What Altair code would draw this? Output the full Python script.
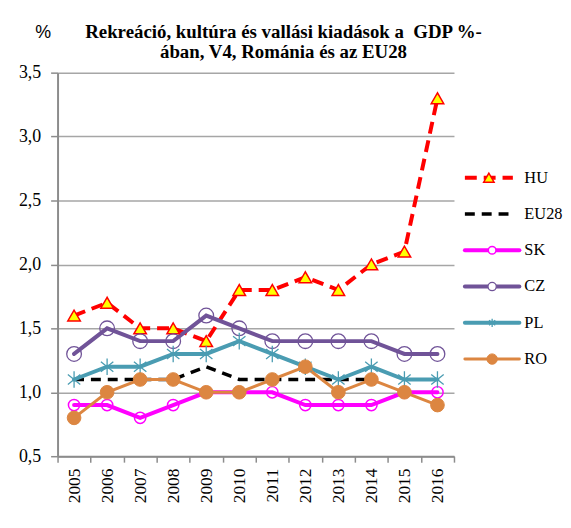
import altair as alt
import pandas as pd

years = ["2005", "2006", "2007", "2008", "2009", "2010", "2011", "2012", "2013", "2014", "2015", "2016"]
series_names = ["HU", "EU28", "SK", "CZ", "PL", "RO"]
hu = [1.6, 1.7, 1.5, 1.5, 1.4, 1.8, 1.8, 1.9, 1.8, 2.0, 2.1, 3.3]
eu28 = [1.1, 1.1, 1.1, 1.1, 1.2, 1.1, 1.1, 1.1, 1.1, 1.1, None, None]
sk = [0.9, 0.9, 0.8, 0.9, 1.0, 1.0, 1.0, 0.9, 0.9, 0.9, 1.0, 1.0]
cz = [1.3, 1.5, 1.4, 1.4, 1.6, 1.5, 1.4, 1.4, 1.4, 1.4, 1.3, 1.3]
pl = [1.1, 1.2, 1.2, 1.3, 1.3, 1.4, 1.3, 1.2, 1.1, 1.2, 1.1, 1.1]
ro = [0.8, 1.0, 1.1, 1.1, 1.0, 1.0, 1.1, 1.2, 1.0, 1.1, 1.0, 0.9]
y_ticks = [0.5, 1.0, 1.5, 2.0, 2.5, 3.0, 3.5]
title_lines = ["Rekreáció, kultúra és vallási kiadások a\u00a0 GDP %-", "ában, V4, Románia és az EU28"]

values = {"HU": hu, "EU28": eu28, "SK": sk, "CZ": cz, "PL": pl, "RO": ro}

STAR = "M0,-1L0,1M-0.75,-0.6L0.75,0.6M-0.75,0.6L0.75,-0.6"
styles = {
    "HU": dict(color="#FF0000", width=4, dash=[12, 7], shape="triangle-up", fill="#FFFF00", size=160, lsize=110, sw=1.5, seg=0.88),
    "EU28": dict(color="#000000", width=3.5, dash=[10, 7], shape=None, seg=0.88),
    "SK": dict(color="#FF00FF", width=4, dash=None, shape="circle", fill=None, size=130, lsize=60, sw=1.5, seg=1.0),
    "CZ": dict(color="#705398", width=4, dash=None, shape="circle", fill=None, size=220, lsize=70, sw=1.3, seg=1.0),
    "PL": dict(color="#4A9CB2", width=4, dash=None, shape=STAR, fill=None, size=280, lsize=70, sw=1.3, seg=1.0),
    "RO": dict(color="#DC8641", width=3, dash=None, shape="circle", fill="#DC8641", size=190, lsize=110, sw=1, seg=1.0),
}

rows = []
for s in series_names:
    for y, v in zip(years, values[s]):
        if v is not None:
            rows.append({"year": y, "series": s, "value": v})
df = pd.DataFrame(rows)

W, H = 400, 387
LW = 92
SEG = 55.0
SERIF = "Liberation Serif"

x_enc = alt.X(
    "year:N",
    sort=years,
    bandPosition=0.5,
    scale=alt.Scale(type="band", domain=years, paddingInner=0, paddingOuter=0),
    axis=alt.Axis(
        title=None, labelAngle=270, labelAlign="right", labelBaseline="middle",
        labelFont=SERIF, labelFontSize=17.5, labelColor="#000000", labelPadding=6,
        tickBand="extent", tickColor="#8C8C8C", tickSize=6, tickWidth=1.5,
        domainColor="#8C8C8C", domainWidth=2, grid=False,
    ),
)
y_enc = alt.Y(
    "value:Q",
    scale=alt.Scale(domain=[0.5, 3.5], nice=False, zero=False),
    axis=alt.Axis(
        values=y_ticks, labelExpr="replace(format(datum.value, '.1f'), '.', ',')",
        labelFont=SERIF, labelFontSize=18, labelColor="#000000", labelPadding=10,
        tickColor="#8C8C8C", tickSize=7, tickWidth=1.5,
        domainColor="#8C8C8C", domainWidth=2,
        grid=True, gridColor="#A6A6A6", gridWidth=1.5,
        title="%", titleAngle=0, titleFont="Liberation Sans", titleFontSize=18,
        titleFontWeight="normal", titleColor="#000000", titleX=-15, titleY=-31,
        titleAlign="center",
    ),
)

layers = []
for s in series_names:
    st = styles[s]
    d = df[df.series == s]
    base = alt.Chart(d)
    line_kw = dict(color=st["color"], strokeWidth=st["width"], strokeCap="butt" if st["dash"] else "round")
    if st["dash"]:
        line_kw["strokeDash"] = st["dash"]
    layers.append(base.mark_line(**line_kw).encode(x=x_enc, y=y_enc))
for s in series_names:
    st = styles[s]
    if st["shape"] is None:
        continue
    d = df[df.series == s]
    pt_kw = dict(shape=st["shape"], size=st["size"], stroke=st["color"], strokeWidth=st["sw"], opacity=1)
    if st["fill"]:
        pt_kw["fill"] = st["fill"]
        pt_kw["filled"] = True
    else:
        pt_kw["filled"] = False
        pt_kw["fill"] = "transparent"
    layers.append(alt.Chart(d).mark_point(**pt_kw).encode(x=x_enc, y=y_enc))

main = alt.layer(*layers).properties(width=W, height=H)

# legend panel
seg_ends = [styles[s]["seg"] for s in series_names]
leg_df = pd.DataFrame({
    "series": series_names,
    "x0": [0.0] * 6,
    "x1": seg_ends,
    "xm": [e / 2 for e in seg_ends],
    "xt": [1.0] * 6,
})
lx = alt.Scale(domain=[0, LW / SEG], nice=False, zero=False)
ly = alt.Y("series:N", scale=alt.Scale(type="point", domain=series_names, range=[106, 289], padding=0), axis=None)
leg_layers = []
for s in series_names:
    st = styles[s]
    d = leg_df[leg_df.series == s]
    kw = dict(color=st["color"], strokeWidth=st["width"], strokeCap="butt" if st["dash"] else "round")
    if st["dash"]:
        kw["strokeDash"] = st["dash"]
    leg_layers.append(alt.Chart(d).mark_rule(**kw).encode(
        x=alt.X("x0:Q", scale=lx, axis=None), x2="x1:Q", y=ly))
    if st["shape"] is not None:
        pk = dict(shape=st["shape"], size=st["lsize"], stroke=st["color"], strokeWidth=st["sw"], opacity=1)
        if st["fill"]:
            pk["fill"] = st["fill"]
            pk["filled"] = True
        else:
            pk["filled"] = False
            pk["fill"] = "#FFFFFF"
        leg_layers.append(alt.Chart(d).mark_point(**pk).encode(
            x=alt.X("xm:Q", scale=lx, axis=None), y=ly))
leg_layers.append(alt.Chart(leg_df).mark_text(
    align="left", baseline="middle", dx=5, font=SERIF, fontSize=16.5, color="#000000"
).encode(x=alt.X("xt:Q", scale=lx, axis=None), y=ly, text="series:N"))
legend = alt.layer(*leg_layers).properties(width=LW, height=H)

chart = alt.hconcat(main, legend, spacing=8).properties(
    title=alt.TitleParams(
        title_lines, font=SERIF, fontSize=19, fontWeight="bold", color="#000000",
        anchor="middle", lineHeight=20, offset=-38, dx=-7,
    ),
    padding={"left": 10, "top": 13, "right": 0, "bottom": 0},
    background="#FFFFFF",
).configure_view(stroke=None)

chart.save("out.html", embed_options={"renderer": "svg", "actions": False})
